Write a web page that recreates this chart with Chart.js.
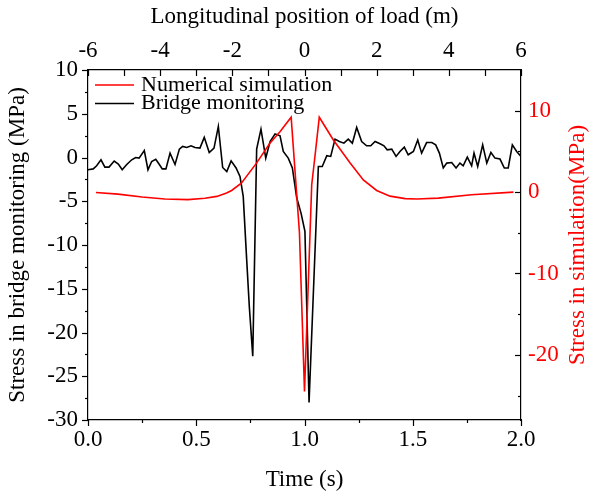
<!DOCTYPE html>
<html>
<head>
<meta charset="utf-8">
<script src="https://cdn.jsdelivr.net/npm/chart.js@4"></script>
<style>
  body { margin: 0; background: #fff; }
  canvas { display: block; }
</style>
</head>
<body>
<canvas id="stressChart" width="589" height="494"></canvas>
<script>
// Bridge monitoring (black, left axis) vs time
const bridgeTime = [0.00,0.024,0.040,0.060,0.078,0.097,0.121,0.140,0.158,0.179,0.202,0.220,0.236,0.260,0.277,0.294,0.313,0.328,0.343,0.360,0.379,0.402,0.422,0.437,0.456,0.476,0.494,0.517,0.537,0.560,0.582,0.602,0.622,0.641,0.661,0.684,0.702,0.717,0.733,0.745,0.761,0.779,0.799,0.821,0.841,0.864,0.887,0.902,0.925,0.944,0.964,0.984,1.002,1.021,1.064,1.082,1.103,1.121,1.141,1.161,1.182,1.202,1.221,1.241,1.264,1.287,1.306,1.326,1.349,1.367,1.382,1.403,1.423,1.441,1.461,1.479,1.503,1.523,1.541,1.564,1.588,1.606,1.623,1.641,1.657,1.680,1.700,1.718,1.733,1.752,1.772,1.783,1.800,1.823,1.842,1.861,1.880,1.903,1.923,1.941,1.960,1.980,2.000];
const bridgeStress = [-1.4,-1.3,-0.95,-0.26,-1.1,-1.1,-0.4,-0.75,-1.4,-0.8,-0.26,0,-0.07,0.8,-1.4,-0.46,-0.2,-0.75,-1.3,-1.3,0.5,-0.8,0.96,1.26,1.15,1.34,1.15,1.07,2.3,0.57,1.07,3.55,-1.14,-1.6,-0.38,-1.2,-2.17,-4.45,-11.7,-17,-22.7,0.96,3.24,-0.07,1.83,2.7,2.48,0.69,-0.07,-1.2,-4.6,-6.36,-8.45,-28,-1.03,-1.03,0.2,0.12,2.1,1.83,1.64,2.1,1.64,3.43,1.83,1.34,1.34,1.83,1.57,1.34,0.88,0.96,0.12,0.69,1.19,0.31,0.69,2.0,0.5,1.71,1.71,1.45,0.5,-1.2,-0.64,-0.57,-1.2,-0.64,-0.95,0.05,-0.95,0.5,-1.03,1.45,-0.64,0.57,-0.07,-0.18,-1.2,-1.2,1.45,0.69,0.12];

// Numerical simulation (red, right axis) vs load position
const simPosition = [-5.78,-5.17,-4.5,-3.87,-3.23,-2.76,-2.43,-2.16,-2.02,-1.75,-1.33,-0.96,-0.68,-0.37,-0.14,0,0.2,0.29,0.41,0.8,1.26,1.63,2.0,2.37,2.79,3.11,3.71,4.63,5.79];
const simStress = [-0.05,-0.25,-0.6,-0.85,-0.93,-0.75,-0.53,-0.12,0.2,1.1,3.56,6.0,7.4,9.2,-5.0,-24.5,0.9,4.4,9.2,6.4,3.6,1.5,0.2,-0.5,-0.8,-0.85,-0.74,-0.33,0.0];

// tick labels
const timeTicks = [0, 0.5, 1.0, 1.5, 2.0];
const timeMinor = [0.25, 0.75, 1.25, 1.75];
const posTicks = [-6, -4, -2, 0, 2, 4, 6];
const posMinor = [-5, -3, -1, 1, 3, 5];
const bridgeTicks = [-30, -25, -20, -15, -10, -5, 0, 5, 10];
const bridgeMinor = [-27.5, -22.5, -17.5, -12.5, -7.5, -2.5, 2.5, 7.5];
const simTicks = [-20, -10, 0, 10];
const simMinor = [-25, -15, -5, 5];

const FONT = { family: 'Liberation Serif', size: 23 };
const RED = '#ff0000';

function setTicks(values) {
    return function (scale) {
        scale.ticks = values.map(v => ({ value: v }));
    };
}

const frameTicks = {
    id: 'frameTicks',
    afterDraw(chart) {
        const ctx = chart.ctx;
        const a = chart.chartArea;
        const s = chart.scales;
        ctx.save();
        ctx.strokeStyle = '#000';
        ctx.lineWidth = 1.2;
        const hTick = (scale, vals, y, len) => vals.forEach(v => {
            const x = Math.round(scale.getPixelForValue(v)) + 0.5;
            ctx.beginPath(); ctx.moveTo(x, y); ctx.lineTo(x, y + len); ctx.stroke();
        });
        const vTick = (scale, vals, x, len) => vals.forEach(v => {
            const y = Math.round(scale.getPixelForValue(v)) + 0.5;
            ctx.beginPath(); ctx.moveTo(x, y); ctx.lineTo(x + len, y); ctx.stroke();
        });
        hTick(s.x, timeTicks, a.bottom, 6);
        hTick(s.x, timeMinor, a.bottom, 3);
        hTick(s.xTop, posTicks, a.top, 6);
        hTick(s.xTop, posMinor, a.top, 6);
        vTick(s.y, bridgeTicks, a.left, -6);
        vTick(s.y, bridgeMinor, a.left, -3);
        vTick(s.y2, simTicks, a.right, -6);
        vTick(s.y2, simMinor, a.right, -3);

        // right axis title, reading bottom to top
        ctx.fillStyle = RED;
        ctx.font = FONT.size + 'px ' + FONT.family;
        ctx.textAlign = 'center';
        ctx.textBaseline = 'middle';
        ctx.translate(578, (a.top + a.bottom) / 2);
        ctx.rotate(-Math.PI / 2);
        ctx.fillText('Stress in simulation(MPa)', 0, 0);
        ctx.restore();

        // legend in the upper left corner
        ctx.save();
        ctx.font = (FONT.size - 1) + 'px ' + FONT.family;
        ctx.textBaseline = 'middle';
        chart.data.datasets.forEach((ds, i) => {
            const y = a.top + 15 + i * 18.5;
            ctx.strokeStyle = ds.borderColor;
            ctx.lineWidth = 1.5;
            ctx.beginPath(); ctx.moveTo(a.left + 7, y); ctx.lineTo(a.left + 46, y); ctx.stroke();
            ctx.fillStyle = '#000';
            ctx.fillText(ds.label, a.left + 53, y);
        });
        ctx.restore();
    }
};

const ctx = document.getElementById('stressChart').getContext('2d');
new Chart(ctx, {
    type: 'line',
    data: {
        datasets: [
            {
                label: 'Numerical simulation',
                data: simPosition.map((p, i) => ({ x: p, y: simStress[i] })),
                xAxisID: 'xTop',
                yAxisID: 'y2',
                borderColor: RED,
                borderWidth: 1.6,
                pointRadius: 0,
                tension: 0,
                fill: false
            },
            {
                label: 'Bridge monitoring',
                data: bridgeTime.map((t, i) => ({ x: t, y: bridgeStress[i] })),
                xAxisID: 'x',
                yAxisID: 'y',
                borderColor: '#000',
                borderWidth: 1.6,
                pointRadius: 0,
                tension: 0,
                fill: false
            }
        ]
    },
    options: {
        responsive: false,
        animation: false,
        layout: { padding: 0 },
        plugins: {
            legend: { display: false },
            tooltip: { enabled: false }
        },
        scales: {
            x: {
                type: 'linear',
                position: 'bottom',
                min: 0,
                max: 2,
                afterBuildTicks: setTicks(timeTicks),
                afterFit: s => { s.height = 74; },
                ticks: { font: FONT, color: '#000', padding: 6, maxRotation: 0, callback: v => v.toFixed(1) },
                grid: { display: false, drawTicks: false },
                border: { display: true, color: '#000', width: 1.2 },
                title: { display: true, text: 'Time (s)', font: FONT, color: '#000', padding: 0 }
            },
            xTop: {
                type: 'linear',
                position: 'top',
                min: -6,
                max: 6,
                afterBuildTicks: setTicks(posTicks),
                afterFit: s => { s.height = 70; },
                ticks: { font: FONT, color: '#000', padding: 5, maxRotation: 0 },
                grid: { display: false, drawTicks: false },
                border: { display: true, color: '#000', width: 1.2 },
                title: { display: true, text: 'Longitudinal position of load (m)', font: FONT, color: '#000', padding: 3 }
            },
            y: {
                type: 'linear',
                position: 'left',
                min: -30,
                max: 10,
                afterBuildTicks: setTicks(bridgeTicks),
                afterFit: s => { s.width = 88; },
                ticks: { font: FONT, color: '#000', padding: 10 },
                grid: { display: false, drawTicks: false },
                border: { display: true, color: '#000', width: 1.2 },
                title: { display: true, text: 'Stress in bridge monitoring (MPa)', font: FONT, color: '#000', padding: 4 }
            },
            y2: {
                type: 'linear',
                position: 'right',
                min: -28,
                max: 15,
                afterBuildTicks: setTicks(simTicks),
                afterFit: s => { s.width = 68; },
                ticks: { font: FONT, color: RED, padding: 7 },
                grid: { display: false, drawTicks: false },
                border: { display: true, color: '#000', width: 1.2 }
            }
        }
    },
    plugins: [frameTicks]
});
</script>
</body>
</html>
